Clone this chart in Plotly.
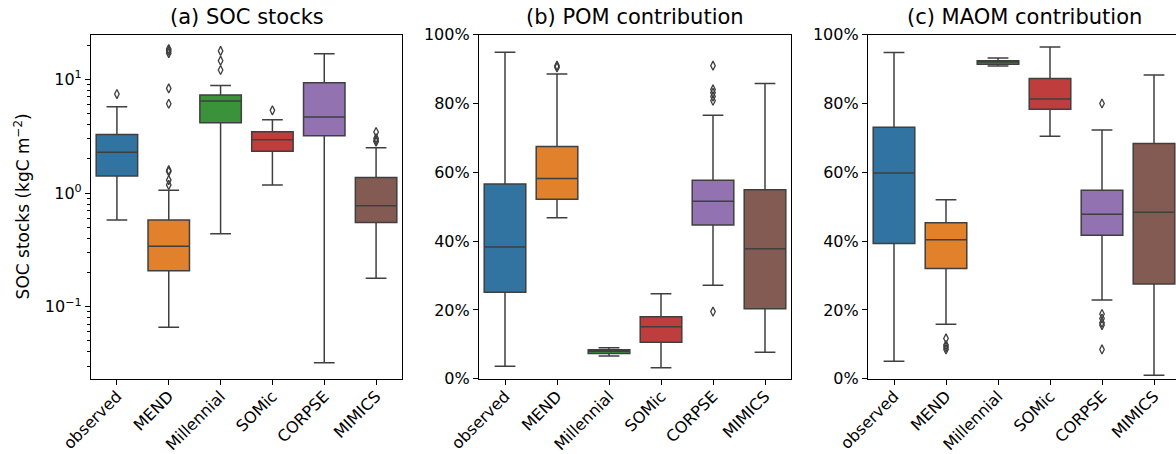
import plotly.graph_objects as go

models = ["observed", "MEND", "Millennial", "SOMic", "CORPSE", "MIMICS"]
colors = ["#3274a1", "#e1812c", "#3a923a", "#c03d3e", "#9372b2", "#845b53"]

# (a) SOC stocks, kgC m-2
soc_low = [0.579, 0.0659, 0.439, 1.18, 0.0322, 0.178]
soc_q1 = [1.41, 0.207, 4.15, 2.33, 3.19, 0.552]
soc_med = [2.28, 0.34, 6.44, 2.94, 4.66, 0.773]
soc_q3 = [3.28, 0.579, 7.28, 3.46, 9.33, 1.37]
soc_high = [5.74, 1.06, 8.85, 4.41, 16.8, 2.50]
soc_out = [[7.43], [17.0, 17.8, 18.5, 8.33, 6.1, 1.59, 1.55, 1.30, 1.18],
           [17.8, 14.6, 12.1], [5.34], [], [3.44, 3.03, 2.90, 2.83]]

# (b) POM contribution, %
pom_low = [3.6, 46.8, 6.6, 3.2, 27.2, 7.7]
pom_q1 = [25.1, 52.2, 7.3, 10.6, 44.7, 20.3]
pom_med = [38.3, 58.2, 8.0, 15.1, 51.6, 37.8]
pom_q3 = [56.6, 67.5, 8.4, 18.0, 57.7, 54.9]
pom_high = [94.9, 88.6, 9.0, 24.7, 76.6, 85.8]
pom_out = [[], [91.0, 90.5], [], [], [91.0, 84.1, 83.1, 82.0, 80.8, 19.5], []]

# (c) MAOM contribution, %
maom_low = [5.1, 15.8, 90.9, 70.5, 22.9, 1.0]
maom_q1 = [39.3, 32.0, 91.4, 78.3, 41.7, 27.5]
maom_med = [59.8, 40.4, 92.1, 81.3, 47.8, 48.4]
maom_q3 = [73.1, 45.3, 92.4, 87.3, 54.8, 68.4]
maom_high = [94.8, 52.0, 93.2, 96.4, 72.3, 88.3]
maom_out = [[], [11.7, 9.8, 9.2, 8.5], [], [], [80.0, 18.8, 17.5, 16.3, 15.6, 8.5], []]

pct_ticks = [0, 20, 40, 60, 80, 100]
pct_labels = ["0%", "20%", "40%", "60%", "80%", "100%"]
log_ticks = [0.1, 1, 10]
log_labels = ["10<sup>−1</sup>", "10<sup>0</sup>", "10<sup>1</sup>"]

titles = ["(a) SOC stocks", "(b) POM contribution", "(c) MAOM contribution"]

W, H = 1176, 454
edge = "#3f3f3f"

fig = go.Figure()

panels = [
    (soc_low, soc_q1, soc_med, soc_q3, soc_high, soc_out),
    (pom_low, pom_q1, pom_med, pom_q3, pom_high, pom_out),
    (maom_low, maom_q1, maom_med, maom_q3, maom_high, maom_out),
]

for p, (lo, q1, md, q3, hi, out) in enumerate(panels):
    xa = "x" if p == 0 else f"x{p+1}"
    ya = "y" if p == 0 else f"y{p+1}"
    for i, m in enumerate(models):
        fig.add_trace(go.Box(
            x=[m], lowerfence=[lo[i]], q1=[q1[i]], median=[md[i]], q3=[q3[i]],
            upperfence=[hi[i]], boxpoints=False, width=0.8, whiskerwidth=0.5,
            fillcolor=colors[i], line=dict(color=edge, width=1.5),
            xaxis=xa, yaxis=ya, showlegend=False, hoverinfo="skip"))
        if out[i]:
            fig.add_trace(go.Scatter(
                x=[m] * len(out[i]), y=out[i], mode="markers",
                marker=dict(symbol="diamond-tall-open", size=6.5, color=edge,
                            line=dict(width=1.3, color=edge)),
                xaxis=xa, yaxis=ya, showlegend=False, hoverinfo="skip"))

# plot area pixel geometry
px_l = [91, 479, 868]
px_r = [402, 791, 1176]
top, bot = 34.7, 378.7
ydom = [1 - bot / H, 1 - top / H]

layout = dict(
    width=W, height=H, margin=dict(l=0, r=0, t=0, b=0, autoexpand=False),
    paper_bgcolor="white", plot_bgcolor="white", boxmode="overlay",
    font=dict(family="DejaVu Sans", color="black", size=16),
)

for p in range(3):
    sfx = "" if p == 0 else str(p + 1)
    # last panel is cut at the right edge of the picture
    rng_hi = 5.5 if p < 2 else 5.5 - (1180 - 1176) / ((1180 - 868) / 6)
    layout["xaxis" + sfx] = dict(
        domain=[px_l[p] / W, px_r[p] / W], anchor="y" + sfx, automargin=False,
        type="category", categoryorder="array", categoryarray=models,
        range=[-0.5, rng_hi], tickangle=-45, ticklabelstandoff=-4,
        tickfont=dict(family="DejaVu Sans", size=16, color="black"),
        showline=True, linecolor="black", linewidth=1.2, mirror=True,
        ticks="outside", ticklen=5, tickcolor="black", showgrid=False, zeroline=False)
    ydict = dict(
        domain=ydom, anchor="x" + sfx, automargin=False,
        tickfont=dict(family="DejaVu Sans", size=16, color="black"),
        showline=True, linecolor="black", linewidth=1.2, mirror=(p < 2),
        ticks="outside", ticklen=5, tickcolor="black", showgrid=False, zeroline=False)
    if p == 0:
        minor_vals = [k * 10 ** e for e in (-2, -1, 0, 1) for k in range(2, 10)]
        ydict.update(type="log", range=[-1.633, 1.393], tickmode="array",
                     tickvals=log_ticks, ticktext=log_labels,
                     minor=dict(tickvals=minor_vals, ticks="outside", ticklen=3,
                                tickcolor="black", showgrid=False))
    else:
        ydict.update(range=[0, 100], tickmode="array", tickvals=pct_ticks, ticktext=pct_labels)
    layout["yaxis" + sfx] = ydict

fig.update_layout(**layout)

centers = [(91 + 402) / 2, (479 + 791) / 2, (868 + 1180) / 2]
for p in range(3):
    fig.add_annotation(text=titles[p], xref="paper", yref="paper",
                       x=centers[p] / W, y=1 - 17 / H, xanchor="center", yanchor="middle",
                       showarrow=False, font=dict(family="DejaVu Sans", size=21, color="black"))

fig.add_annotation(text="SOC stocks (kgC m<sup>−2</sup>)", xref="paper", yref="paper",
                   x=21.7 / W, y=1 - (top + bot) / 2 / H, xanchor="center", yanchor="middle",
                   textangle=-90, showarrow=False,
                   font=dict(family="DejaVu Sans", size=17, color="black"))

fig.write_html("out.html", config={"displayModeBar": False},
               post_script="document.body.style.margin='0';document.body.style.overflow='hidden';")
